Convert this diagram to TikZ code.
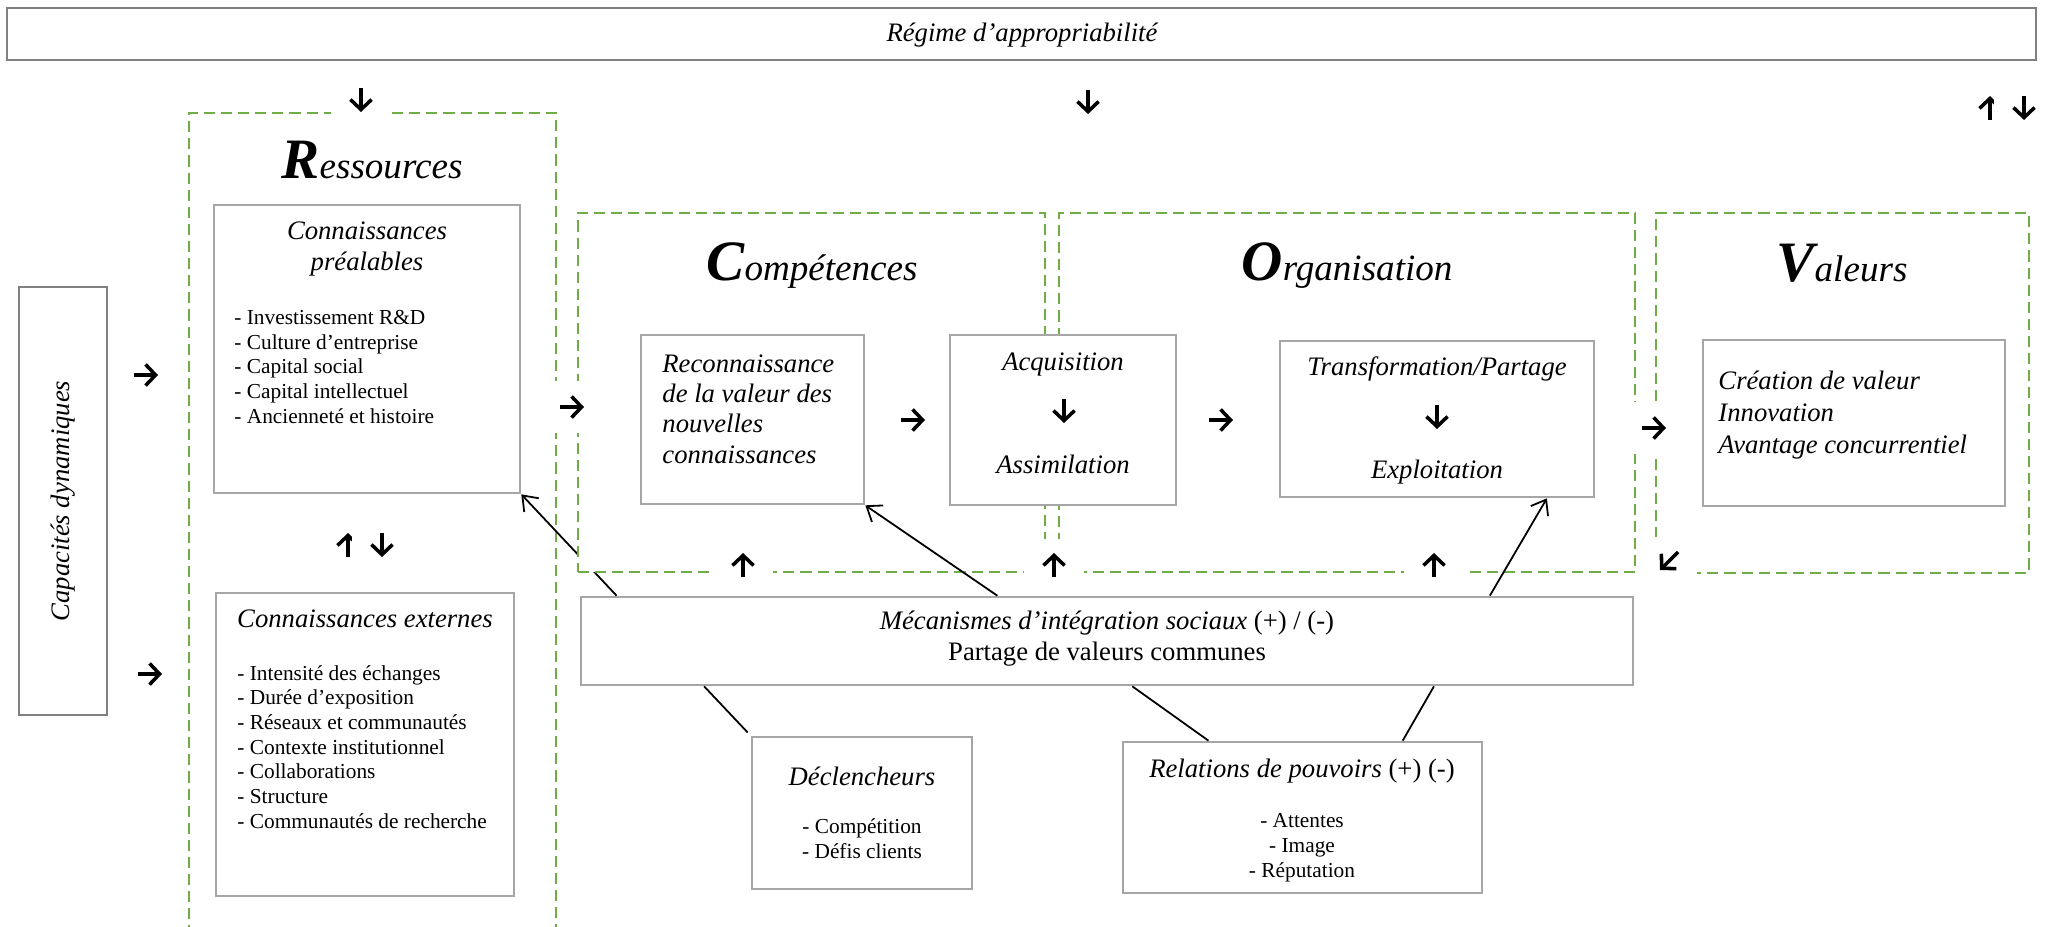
\documentclass[tikz,border=0pt]{standalone}
\usepackage{fontspec}
\setmainfont{Liberation Serif}
\usetikzlibrary{arrows.meta,fit,calc}
\definecolor{dashgreen}{RGB}{112,173,71}
\definecolor{boxgray}{RGB}{166,166,166}
\definecolor{framegray}{RGB}{128,128,128}
\newcommand{\txtfont}{\fontsize{12}{13.6}\selectfont}
\newcommand{\lstfont}{\fontsize{9.6}{11.1}\selectfont}
\newcommand{\ttlfont}{\fontsize{16.7}{20}\selectfont\itshape}
\newcommand{\bigletter}[1]{{\fontsize{25.7}{30}\selectfont\bfseries\itshape #1}}

\begin{document}
\begin{tikzpicture}[x=0.45pt, y=-0.45pt,
    box/.style={draw=boxgray, line width=1.2pt, fill=white, inner sep=0pt},
    outbox/.style={draw=framegray, line width=1.2pt, inner sep=0pt},
    group/.style={draw=dashgreen, line width=1pt, dash pattern=on 5pt off 2.7pt, inner sep=0pt},
    txt/.style={inner sep=0pt, font=\txtfont},
    itxt/.style={inner sep=0pt, font=\txtfont\itshape},
    lst/.style={inner sep=0pt, font=\lstfont},
    ttl/.style={inner sep=0pt, font=\ttlfont},
    link/.style={line width=0.8pt, -{Straight Barb[length=6pt,width=9pt]}},
    plain/.style={line width=0.8pt},
    sym/.style={line width=1.6pt, -{Straight Barb[length=4.5pt,width=9.5pt]}},
    arrR/.pic={\fill[white] (-30,-26) rectangle (30,26); \draw[sym] (-12,0) -- (12,0);},
    arrD/.pic={\fill[white] (-30,-26) rectangle (30,26); \draw[sym] (0,-12) -- (0,12);},
    arrU/.pic={\fill[white] (-30,-26) rectangle (30,26); \draw[sym] (0,12) -- (0,-12);},
    arrDL/.pic={\fill[white] (-28,-24) rectangle (28,24); \draw[sym] (9,-9) -- (-9,9);}]
  \useasboundingbox (0,0) rectangle (2047,926);

  % regime (multi-line nodes sit on their last baseline)
  \node[outbox, fit={(7,8) (2036,60)}] (regime) {};
  \node[itxt, anchor=base] (regimeT) at (1022,42) {Régime d’appropriabilité};

  % ressources
  \node[group, fit={(189,113) (556,945)}] (res) {};
  \node[ttl, anchor=base] (resTitle) at (372,178) {\bigletter{R}essources};
  \node[outbox, fit={(19,287) (107,715)}] (capa) {};
  \node[itxt, rotate=90] (capaT) at (capa.center) {Capacités dynamiques};
  \node[box, fit={(214,205) (520,493)}] (prea) {};
  \node[itxt, anchor=base, align=center] (preaT) at (367,270) {Connaissances\\préalables};
  \node[lst, anchor=base west, align=left] (preaL) at (234,423) {- Investissement R\&D\\- Culture d’entreprise\\- Capital social\\- Capital intellectuel\\- Ancienneté et histoire};
  \node[box, fit={(216,593) (514,896)}] (ext) {};
  \node[itxt, anchor=base] (extT) at (365,627) {Connaissances externes};
  \node[lst, anchor=base west, align=left] (extL) at (237,828) {- Intensité des échanges\\- Durée d’exposition\\- Réseaux et communautés\\- Contexte institutionnel\\- Collaborations\\- Structure\\- Communautés de recherche};

  % mecanismes
  \node[box, fit={(581,597) (1633,685)}] (mec) {};
  \node[txt, anchor=base, align=center] (mecT) at (1107,660) {\textit{Mécanismes d’intégration sociaux} (+) / (-)\\Partage de valeurs communes};
  \draw[link] ($(mec.north west)!.035!(mec.north east)$) -- (prea.south east);

  % competences, organisation, valeurs
  \node[group, fill=white, fit={(578,213) (1045,572)}] (comp) {};
  \node[group, fit={(1059,213) (1635,572)}] (org) {};
  \node[group, fit={(1656,213) (2029,573)}] (val) {};
  \node[ttl, anchor=base] (compTitle) at (812,280) {\bigletter{C}ompétences};
  \node[ttl, anchor=base] (orgTitle) at (1347,280) {\bigletter{O}rganisation};
  \node[ttl, anchor=base] (valTitle) at (1842,281) {\bigletter{V}aleurs};

  \node[box, fit={(641,335) (864,504)}] (reco) {};
  \node[itxt, anchor=base west, align=left] (recoT) at (662,463) {Reconnaissance\\de la valeur des\\nouvelles\\connaissances};
  \node[box, fit={(950,335) (1176,505)}] (acq) {};
  \node[itxt, anchor=base] (acqT) at (1063,370) {Acquisition};
  \node[itxt, anchor=base] (acqB) at (1063,473) {Assimilation};
  \node[box, fit={(1280,341) (1594,497)}] (trans) {};
  \node[itxt, anchor=base] (transT) at (1437,375) {Transformation/Partage};
  \node[itxt, anchor=base] (transB) at (1437,478) {Exploitation};
  \node[box, fit={(1703,340) (2005,506)}] (crea) {};
  \node[itxt, anchor=base west, align=left, font=\fontsize{12}{14.2}\selectfont\itshape] (creaT) at (1718,453) {Création de valeur\\Innovation\\Avantage concurrentiel};

  % declencheurs, relations
  \node[box, fit={(752,737) (972,889)}] (decl) {};
  \node[itxt, anchor=base] (declT) at (862,785) {Déclencheurs};
  \node[lst, anchor=base, align=center] (declL) at (862,858) {- Compétition\\- Défis clients};
  \node[box, fit={(1123,742) (1482,893)}] (rel) {};
  \node[txt, anchor=base] (relT) at (1302,777) {\textit{Relations de pouvoirs} (+) (-)};
  \node[lst, anchor=base, align=center] (relL) at (1302,877) {- Attentes\\- Image\\- Réputation};

  \draw[link] ($(mec.north west)!.396!(mec.north east)$) -- (reco.south east);
  \draw[link] ($(mec.north west)!.863!(mec.north east)$) -- ($(trans.south west)!.847!(trans.south east)$);
  \draw[plain, shorten >=2pt] ($(mec.south west)!.118!(mec.south east)$) -- (decl.north west);
  \draw[plain] ($(mec.south west)!.524!(mec.south east)$) -- ($(rel.north west)!.24!(rel.north east)$);
  \draw[plain] ($(mec.south west)!.81!(mec.south east)$) -- ($(rel.north west)!.777!(rel.north east)$);

  % symbol arrows
  \pic at (146,375) {arrR};
  \pic at (150,674) {arrR};
  \pic at (361,100) {arrD};
  \pic at (1088,102) {arrD};
  \pic at (1990,108) {arrU};
  \pic at (2024,108) {arrD};
  \pic at (348,545) {arrU};
  \pic at (382,545) {arrD};
  \pic at (572,407) {arrR};
  \pic at (913,420) {arrR};
  \pic at (1221,420) {arrR};
  \pic at (1654,428) {arrR};
  \pic at (1064,411) {arrD};
  \pic at (1437,417) {arrD};
  \foreach \x in {743,1054,1434}
    \pic at (\x,565) {arrU};
  \pic at (1669,561) {arrDL};
\end{tikzpicture}
\end{document}
